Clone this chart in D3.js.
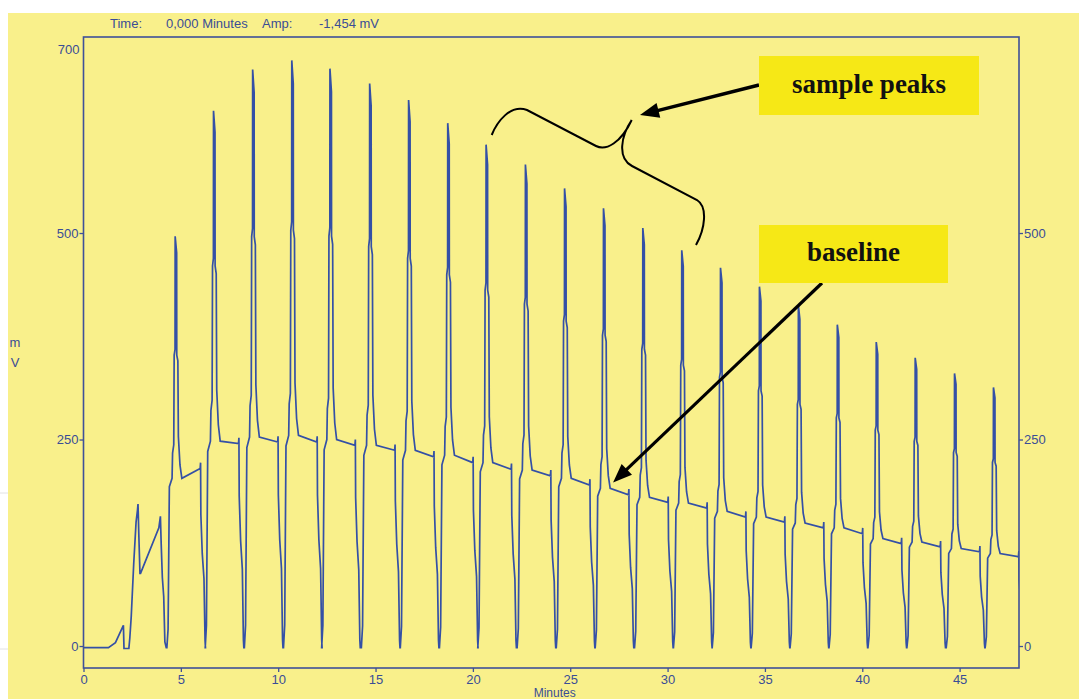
<!DOCTYPE html>
<html>
<head>
<meta charset="utf-8">
<script src="https://cdn.jsdelivr.net/npm/d3@7/dist/d3.min.js"></script>
<style>
  body { margin: 0; background: #ffffff; }
  svg { display: block; }
  .tick text, .lbl {
    font-family: "Liberation Sans Narrow", "Arial Narrow", "Liberation Sans", sans-serif;
    font-size: 13px;
    fill: #3a4d96;
  }
  .note {
    font-family: "Liberation Serif", "DejaVu Serif", serif;
    font-weight: bold;
    font-size: 27px;
    fill: #111111;
  }
</style>
</head>
<body>
<div id="chart"></div>
<script>
// Set height and width for svg
let svgWidth = 1079;
let svgHeight = 699;

let margin = {
  top: 37,
  right: 60,
  bottom: 31,
  left: 83.5
};

let width = svgWidth - margin.left - margin.right;
let height = svgHeight - margin.top - margin.bottom;

// axis ticks
let xTicks = [0, 5, 10, 15, 20, 25, 30, 35, 40, 45];
let yTicks = [0, 250, 500];
let yTopLabel = "700";
let yTopValue = 722;

// run start, before the first injection (minutes / mV)
let startTimes = [0, 1.28, 1.64, 1.99, 2.05, 2.08, 2.33, 2.38, 2.45, 2.58, 2.7, 2.77, 2.8, 2.84, 2.9, 2.93, 3.87, 3.95, 3.99, 4.05, 4.12, 4.18, 4.25];
let startValues = [-2, -2, 4, 22, 25, -3, -3, 10, 35, 100, 150, 164, 172, 136, 88, 88, 143, 157, 124, 83, 60, 5, -2];

// one value per injected sample
let peakTimes = [4.77, 6.74, 8.75, 10.76, 12.72, 14.76, 16.76, 18.77, 20.74, 22.76, 24.77, 26.77, 28.79, 30.79, 32.78, 34.78, 36.78, 38.78, 40.78, 42.78, 44.8, 46.8];
let peakHeights = [496, 648, 698, 709, 699, 681, 661, 633, 607, 583, 554, 530, 506, 479, 458, 435, 412, 389, 368, 349, 330, 313];
let baseStart = [203, 248, 253, 255, 250, 243, 237, 231, 222, 213, 203, 191, 180, 173, 163, 156, 149, 143, 130, 126, 118, 112];
let baseEnd = [215, 245, 247, 247, 243, 237, 229, 222, 214, 206, 195, 183, 174, 167, 156, 150, 143, 136, 124, 120, 114, 108];
let shoulderRatio = 0.71;

// shape of one injection cycle around its peak (minutes from peak)
let shapeOffsets = [-0.488, -0.426, -0.36, -0.221, -0.195, -0.134, -0.113, -0.068, -0.062, 0.015, 0.02, 0.077, 0.103, 0.185, 0.282, 1.222, 1.243, 1.258, 1.33, 1.418, 1.474, 1.495];
let shapeRefs = ["z", "bs", "bs", "bs", "bs", "bs", "S", "S", "P", "P", "S", "S", "bs", "bs", "bs", "be", "be", "be", "be", "be", "be", "z"];
let shapeFactors = [0, 0.1, 0.95, 1, 1.15, 1.2, 1, 1.02, 1, 0.96, 1, 0.98, 1.25, 1.08, 1, 1, 1, 0.74, 0.52, 0.38, 0.03, 0];
let shapeAdds = [-2, 0, 0, 0, 0, 0, 0, 0, 0, 0, 0, 0, 0, 0, 0, 0, 7, 0, 0, 0, 0, -2];

// header texts
let headerTexts = ["Time:", "0,000 Minutes", "Amp:", "-1,454 mV"];
let headerX = [110, 166, 262, 319];

let frameColor = "#3f5198";
let traceColor = "#3450a6";

// creating svg wrapper
let svg = d3
  .select("#chart")
  .append("svg")
  .attr("width", svgWidth)
  .attr("height", svgHeight);

// yellow page, white strip left and top
svg
  .append("rect")
  .attr("x", 8)
  .attr("y", 13)
  .attr("width", svgWidth - 8)
  .attr("height", svgHeight - 13)
  .attr("fill", "#f9f08b");

[493, 649].forEach(function(yy) {
  svg
    .append("line")
    .attr("x1", 0)
    .attr("x2", 8)
    .attr("y1", yy)
    .attr("y2", yy)
    .attr("stroke", "#e2e2e2");
});

let chartGroup = svg
  .append("g")
  .attr("transform", `translate(${margin.left}, ${margin.top})`);

// scales
let xScale = d3
  .scaleLinear()
  .domain([0, 48.05])
  .range([0, width]);

let yScale = d3
  .scaleLinear()
  .domain([-26.6, 737.3])
  .range([height, 0]);

// build the trace
let trace = startTimes.map((t, i) => ({ t: t, v: startValues[i] }));

peakTimes.forEach(function(tp, i) {
  let lev = {
    z: 1,
    P: peakHeights[i],
    S: peakHeights[i] * shoulderRatio,
    bs: baseStart[i],
    be: baseEnd[i]
  };
  shapeOffsets.forEach(function(dt, j) {
    trace.push({ t: tp + dt, v: lev[shapeRefs[j]] * shapeFactors[j] + shapeAdds[j] });
  });
});

// clip for the trace
chartGroup
  .append("clipPath")
  .attr("id", "plotClip")
  .append("rect")
  .attr("x", 0)
  .attr("y", 0)
  .attr("width", width)
  .attr("height", height);

let line = d3
  .line()
  .x(d => xScale(d.t))
  .y(d => yScale(d.v));

chartGroup
  .append("path")
  .datum(trace)
  .attr("clip-path", "url(#plotClip)")
  .attr("fill", "none")
  .attr("stroke", traceColor)
  .attr("stroke-width", 1.7)
  .attr("stroke-linejoin", "miter")
  .attr("d", line);

// axes
let leftAxis = d3.axisLeft(yScale).tickValues(yTicks).tickSize(4).tickPadding(1);
let rightAxis = d3.axisRight(yScale).tickValues(yTicks).tickSize(4).tickPadding(1);
let bottomAxis = d3.axisBottom(xScale).tickValues(xTicks).tickSize(4).tickPadding(3);

let yAxisL = chartGroup.append("g").call(leftAxis);
let yAxisR = chartGroup
  .append("g")
  .attr("transform", `translate(${width}, 0)`)
  .call(rightAxis);
let xAxis = chartGroup
  .append("g")
  .attr("transform", `translate(0, ${height})`)
  .call(bottomAxis);

[yAxisL, yAxisR, xAxis].forEach(function(ax) {
  ax.select(".domain").remove();
  ax.selectAll(".tick line").attr("stroke", frameColor).attr("stroke-width", 1.3);
  ax.selectAll(".tick text").attr("fill", "#3a4d96");
});

// frame
chartGroup
  .append("rect")
  .attr("x", 0)
  .attr("y", 0)
  .attr("width", width)
  .attr("height", height)
  .attr("fill", "none")
  .attr("stroke", frameColor)
  .attr("stroke-width", 1.6);

// top label on the left axis
chartGroup
  .append("text")
  .attr("class", "lbl")
  .attr("x", -4)
  .attr("y", yScale(yTopValue))
  .attr("dy", "0.32em")
  .attr("text-anchor", "end")
  .text(yTopLabel);

// axis titles
svg
  .append("text")
  .attr("class", "lbl")
  .attr("x", margin.left + xScale(24.2))
  .attr("y", 697)
  .attr("text-anchor", "middle")
  .style("font-size", "12px")
  .text("Minutes");

svg
  .append("text")
  .attr("class", "lbl")
  .attr("x", 15)
  .attr("y", 347)
  .attr("text-anchor", "middle")
  .text("m");

svg
  .append("text")
  .attr("class", "lbl")
  .attr("x", 15)
  .attr("y", 367)
  .attr("text-anchor", "middle")
  .text("V");

// header line
headerTexts.forEach(function(txt, i) {
  svg
    .append("text")
    .attr("class", "lbl")
    .attr("x", headerX[i])
    .attr("y", 28)
    .text(txt);
});

// annotations
let noteGroup = svg.append("g");

function arrow(x1, y1, x2, y2, w) {
  let ang = Math.atan2(y2 - y1, x2 - x1);
  let len = 19;
  let half = 7.5;
  let bx = x2 - len * Math.cos(ang);
  let by = y2 - len * Math.sin(ang);
  noteGroup
    .append("line")
    .attr("x1", x1)
    .attr("y1", y1)
    .attr("x2", bx + 3 * Math.cos(ang))
    .attr("y2", by + 3 * Math.sin(ang))
    .attr("stroke", "#000")
    .attr("stroke-width", w);
  let pts = [
    [x2, y2],
    [bx - half * Math.sin(ang), by + half * Math.cos(ang)],
    [bx + half * Math.sin(ang), by - half * Math.cos(ang)]
  ];
  noteGroup
    .append("polygon")
    .attr("points", pts.map(p => p.join(",")).join(" "))
    .attr("fill", "#000");
}

// brace over the sample peaks
noteGroup
  .append("path")
  .attr("d", "M491.7,135 C497,122 510,104 527,110 L596,146 C606,151 621,143 631.7,120 C621,136 617,158 632,166 L697,200 C708,207 705,229 696,245")
  .attr("fill", "none")
  .attr("stroke", "#000")
  .attr("stroke-width", 2);

arrow(759, 85, 640, 115, 3.5);
arrow(822, 283, margin.left + xScale(27.2), margin.top + yScale(198), 3.2);

// label boxes
let boxes = [
  { x: 759, y: 56, w: 220, h: 59, text: "sample peaks", ty: 93 },
  { x: 759, y: 225, w: 189, h: 58, text: "baseline", ty: 261 }
];

boxes.forEach(function(b) {
  noteGroup
    .append("rect")
    .attr("x", b.x)
    .attr("y", b.y)
    .attr("width", b.w)
    .attr("height", b.h)
    .attr("fill", "#f6e816");
  noteGroup
    .append("text")
    .attr("class", "note")
    .attr("x", b.x + b.w / 2)
    .attr("y", b.ty)
    .attr("text-anchor", "middle")
    .text(b.text);
});
</script>
</body>
</html>
